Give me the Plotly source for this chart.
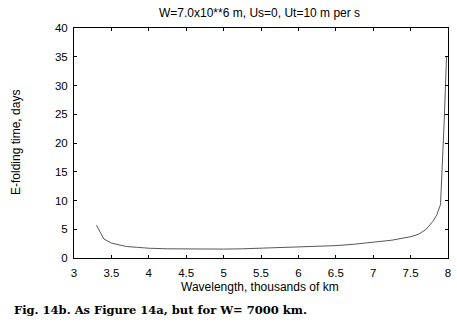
import plotly.graph_objects as go

wavelength = [3.3, 3.4, 3.5, 3.6, 3.7, 3.85, 4.0, 4.25, 4.5, 4.75, 5.0, 5.25, 5.5, 5.75, 6.0, 6.25, 6.5, 6.75, 7.0, 7.25, 7.5, 7.6, 7.7, 7.8, 7.85, 7.9, 7.95, 7.98]
efold = [5.7, 3.3, 2.6, 2.25, 2.0, 1.85, 1.7, 1.6, 1.55, 1.55, 1.55, 1.6, 1.7, 1.75, 1.85, 1.95, 2.15, 2.4, 2.7, 3.1, 3.7, 4.1, 4.9, 6.4, 7.5, 9.3, 24.0, 35.0]

x_ticks = [3, 3.5, 4, 4.5, 5, 5.5, 6, 6.5, 7, 7.5, 8]
y_ticks = [0, 5, 10, 15, 20, 25, 30, 35, 40]

W, H = 457, 328
L, R, T, B = 74, 9, 28, 70
pw, ph = W - L - R, H - T - B

def px_x(p):
    return (p - L) / pw

def px_y(p):
    return (H - B - p) / ph

sans = "Liberation Sans, Arial"

fig = go.Figure()
fig.add_trace(go.Scatter(x=wavelength, y=efold, mode="lines",
                         line=dict(color="#444444", width=0.9), showlegend=False))

axis_common = dict(showline=True, linecolor="black", linewidth=1, mirror="ticks",
                   ticks="inside", ticklen=3, tickcolor="black", showgrid=False,
                   zeroline=False, automargin=False,
                   tickfont=dict(family=sans, size=11.5, color="black"))

fig.update_layout(
    width=W, height=H,
    margin=dict(l=L, r=R, t=T, b=B, autoexpand=False),
    paper_bgcolor="white", plot_bgcolor="white",
    xaxis=dict(range=[3, 8], tickvals=x_ticks, ticktext=[f"{v:g}" for v in x_ticks],
               ticklabelstandoff=4, **axis_common),
    yaxis=dict(range=[0, 40], tickvals=y_ticks, ticklabelstandoff=3, **axis_common),
)

fig.add_annotation(text="W=7.0x10**6 m, Us=0, Ut=10 m per s", xref="paper", yref="paper",
                   x=px_x(259), y=px_y(13), xanchor="center", yanchor="middle", showarrow=False,
                   font=dict(family=sans, size=12, color="black"))
fig.add_annotation(text="Wavelength, thousands of km", xref="paper", yref="paper",
                   x=px_x(260), y=px_y(287), xanchor="center", yanchor="middle", showarrow=False,
                   font=dict(family=sans, size=12, color="black"))
fig.add_annotation(text="E-folding time, days", xref="paper", yref="paper", textangle=-90,
                   x=px_x(16), y=px_y(143), xanchor="center", yanchor="middle", showarrow=False,
                   font=dict(family=sans, size=12, color="black"))
fig.add_annotation(text="<b>Fig. 14b. As Figure 14a, but for W= 7000 km.</b>",
                   xref="paper", yref="paper", x=px_x(12), y=px_y(310), xanchor="left", yanchor="middle",
                   showarrow=False, font=dict(family="DejaVu Serif", size=11.5, color="black"))

fig.write_html("out.html", config={"displayModeBar": False},
               post_script="document.body.style.margin='0';document.body.style.overflow='hidden';")
